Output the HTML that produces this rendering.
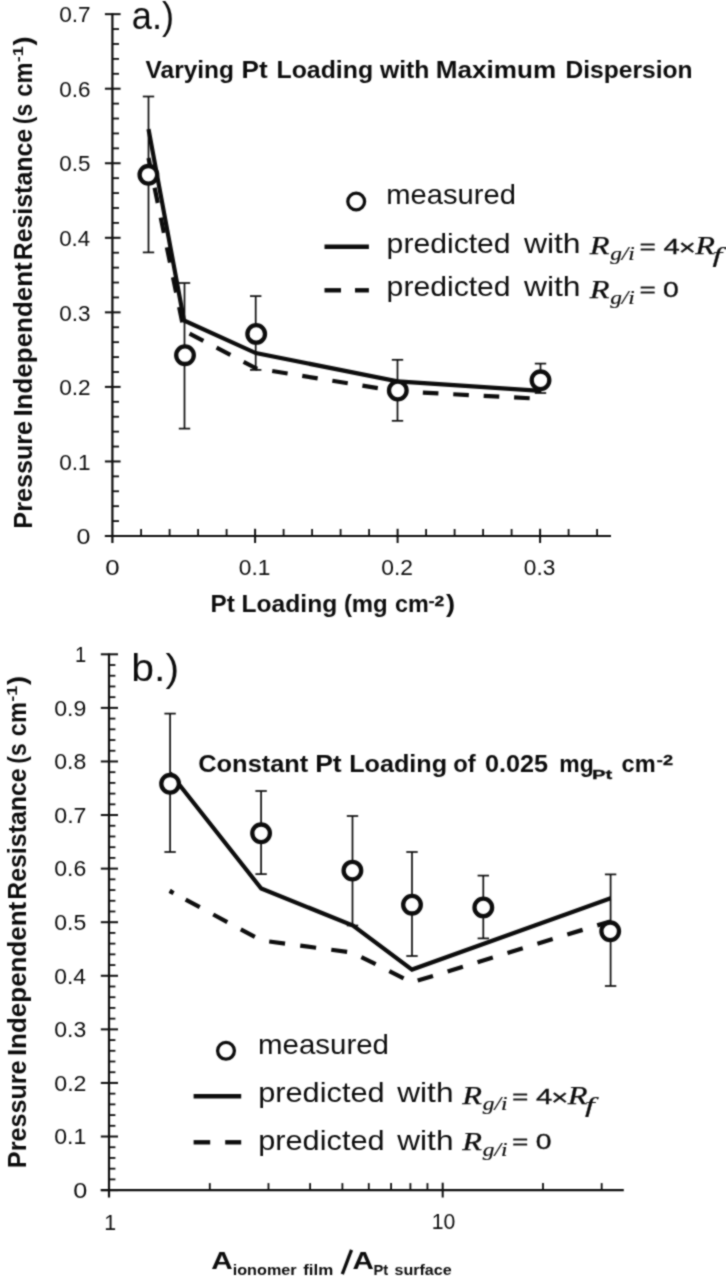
<!DOCTYPE html>
<html><head><meta charset="utf-8"><title>chart</title>
<style>
html,body{margin:0;padding:0;background:#fff;}
body{width:726px;height:1280px;overflow:hidden;font-family:"Liberation Sans",sans-serif;}
svg{display:block;}
svg text{fill:#0d0d0d;}
</style></head><body>
<svg width="726" height="1280" viewBox="0 0 726 1280" style="font-family:'Liberation Sans',sans-serif">
<defs><filter id="soft" x="0" y="0" width="100%" height="100%" filterUnits="userSpaceOnUse" color-interpolation-filters="sRGB"><feConvolveMatrix order="3" kernelMatrix="1 2 1 2 8 2 1 2 1" divisor="20" edgeMode="duplicate" preserveAlpha="true"/></filter></defs>
<rect width="726" height="1280" fill="#fff"/>
<g filter="url(#soft)">
<rect width="726" height="1280" fill="#fff"/>
<line x1="112.40" y1="13.20" x2="112.40" y2="543.00" stroke="#0d0d0d" stroke-width="2.2" />
<line x1="104.90" y1="536.00" x2="120.60" y2="536.00" stroke="#0d0d0d" stroke-width="2.0" />
<line x1="112.40" y1="521.09" x2="119.00" y2="521.09" stroke="#0d0d0d" stroke-width="1.8" />
<line x1="112.40" y1="506.18" x2="119.00" y2="506.18" stroke="#0d0d0d" stroke-width="1.8" />
<line x1="112.40" y1="491.27" x2="119.00" y2="491.27" stroke="#0d0d0d" stroke-width="1.8" />
<line x1="112.40" y1="476.36" x2="119.00" y2="476.36" stroke="#0d0d0d" stroke-width="1.8" />
<line x1="104.90" y1="461.45" x2="120.60" y2="461.45" stroke="#0d0d0d" stroke-width="2.0" />
<line x1="112.40" y1="446.54" x2="119.00" y2="446.54" stroke="#0d0d0d" stroke-width="1.8" />
<line x1="112.40" y1="431.63" x2="119.00" y2="431.63" stroke="#0d0d0d" stroke-width="1.8" />
<line x1="112.40" y1="416.72" x2="119.00" y2="416.72" stroke="#0d0d0d" stroke-width="1.8" />
<line x1="112.40" y1="401.81" x2="119.00" y2="401.81" stroke="#0d0d0d" stroke-width="1.8" />
<line x1="104.90" y1="386.90" x2="120.60" y2="386.90" stroke="#0d0d0d" stroke-width="2.0" />
<line x1="112.40" y1="371.99" x2="119.00" y2="371.99" stroke="#0d0d0d" stroke-width="1.8" />
<line x1="112.40" y1="357.08" x2="119.00" y2="357.08" stroke="#0d0d0d" stroke-width="1.8" />
<line x1="112.40" y1="342.17" x2="119.00" y2="342.17" stroke="#0d0d0d" stroke-width="1.8" />
<line x1="112.40" y1="327.26" x2="119.00" y2="327.26" stroke="#0d0d0d" stroke-width="1.8" />
<line x1="104.90" y1="312.35" x2="120.60" y2="312.35" stroke="#0d0d0d" stroke-width="2.0" />
<line x1="112.40" y1="297.44" x2="119.00" y2="297.44" stroke="#0d0d0d" stroke-width="1.8" />
<line x1="112.40" y1="282.53" x2="119.00" y2="282.53" stroke="#0d0d0d" stroke-width="1.8" />
<line x1="112.40" y1="267.62" x2="119.00" y2="267.62" stroke="#0d0d0d" stroke-width="1.8" />
<line x1="112.40" y1="252.71" x2="119.00" y2="252.71" stroke="#0d0d0d" stroke-width="1.8" />
<line x1="104.90" y1="237.80" x2="120.60" y2="237.80" stroke="#0d0d0d" stroke-width="2.0" />
<line x1="112.40" y1="222.89" x2="119.00" y2="222.89" stroke="#0d0d0d" stroke-width="1.8" />
<line x1="112.40" y1="207.98" x2="119.00" y2="207.98" stroke="#0d0d0d" stroke-width="1.8" />
<line x1="112.40" y1="193.07" x2="119.00" y2="193.07" stroke="#0d0d0d" stroke-width="1.8" />
<line x1="112.40" y1="178.16" x2="119.00" y2="178.16" stroke="#0d0d0d" stroke-width="1.8" />
<line x1="104.90" y1="163.25" x2="120.60" y2="163.25" stroke="#0d0d0d" stroke-width="2.0" />
<line x1="112.40" y1="148.34" x2="119.00" y2="148.34" stroke="#0d0d0d" stroke-width="1.8" />
<line x1="112.40" y1="133.43" x2="119.00" y2="133.43" stroke="#0d0d0d" stroke-width="1.8" />
<line x1="112.40" y1="118.52" x2="119.00" y2="118.52" stroke="#0d0d0d" stroke-width="1.8" />
<line x1="112.40" y1="103.61" x2="119.00" y2="103.61" stroke="#0d0d0d" stroke-width="1.8" />
<line x1="104.90" y1="88.70" x2="120.60" y2="88.70" stroke="#0d0d0d" stroke-width="2.0" />
<line x1="112.40" y1="73.79" x2="119.00" y2="73.79" stroke="#0d0d0d" stroke-width="1.8" />
<line x1="112.40" y1="58.88" x2="119.00" y2="58.88" stroke="#0d0d0d" stroke-width="1.8" />
<line x1="112.40" y1="43.97" x2="119.00" y2="43.97" stroke="#0d0d0d" stroke-width="1.8" />
<line x1="112.40" y1="29.06" x2="119.00" y2="29.06" stroke="#0d0d0d" stroke-width="1.8" />
<line x1="104.90" y1="14.15" x2="120.60" y2="14.15" stroke="#0d0d0d" stroke-width="2.0" />
<line x1="104.90" y1="536.00" x2="611.00" y2="536.00" stroke="#0d0d0d" stroke-width="2.2" />
<line x1="141.10" y1="529.00" x2="141.10" y2="536.00" stroke="#0d0d0d" stroke-width="1.8" />
<line x1="169.60" y1="529.00" x2="169.60" y2="536.00" stroke="#0d0d0d" stroke-width="1.8" />
<line x1="198.10" y1="529.00" x2="198.10" y2="536.00" stroke="#0d0d0d" stroke-width="1.8" />
<line x1="226.60" y1="529.00" x2="226.60" y2="536.00" stroke="#0d0d0d" stroke-width="1.8" />
<line x1="255.10" y1="528.80" x2="255.10" y2="543.00" stroke="#0d0d0d" stroke-width="2.0" />
<line x1="283.60" y1="529.00" x2="283.60" y2="536.00" stroke="#0d0d0d" stroke-width="1.8" />
<line x1="312.10" y1="529.00" x2="312.10" y2="536.00" stroke="#0d0d0d" stroke-width="1.8" />
<line x1="340.60" y1="529.00" x2="340.60" y2="536.00" stroke="#0d0d0d" stroke-width="1.8" />
<line x1="369.10" y1="529.00" x2="369.10" y2="536.00" stroke="#0d0d0d" stroke-width="1.8" />
<line x1="397.60" y1="528.80" x2="397.60" y2="543.00" stroke="#0d0d0d" stroke-width="2.0" />
<line x1="426.10" y1="529.00" x2="426.10" y2="536.00" stroke="#0d0d0d" stroke-width="1.8" />
<line x1="454.60" y1="529.00" x2="454.60" y2="536.00" stroke="#0d0d0d" stroke-width="1.8" />
<line x1="483.10" y1="529.00" x2="483.10" y2="536.00" stroke="#0d0d0d" stroke-width="1.8" />
<line x1="511.60" y1="529.00" x2="511.60" y2="536.00" stroke="#0d0d0d" stroke-width="1.8" />
<line x1="540.10" y1="528.80" x2="540.10" y2="543.00" stroke="#0d0d0d" stroke-width="2.0" />
<line x1="568.60" y1="529.00" x2="568.60" y2="536.00" stroke="#0d0d0d" stroke-width="1.8" />
<line x1="597.10" y1="529.00" x2="597.10" y2="536.00" stroke="#0d0d0d" stroke-width="1.8" />
<text x="76.60" y="544.17" font-size="22.54" textLength="13.90" lengthAdjust="spacingAndGlyphs">0</text>
<text x="59.20" y="469.62" font-size="22.54" textLength="31.32" lengthAdjust="spacingAndGlyphs">0.1</text>
<text x="59.20" y="395.07" font-size="22.54" textLength="31.44" lengthAdjust="spacingAndGlyphs">0.2</text>
<text x="59.20" y="320.52" font-size="22.54" textLength="31.20" lengthAdjust="spacingAndGlyphs">0.3</text>
<text x="59.21" y="245.97" font-size="22.54" textLength="30.96" lengthAdjust="spacingAndGlyphs">0.4</text>
<text x="59.20" y="171.42" font-size="22.54" textLength="31.20" lengthAdjust="spacingAndGlyphs">0.5</text>
<text x="59.20" y="96.87" font-size="22.54" textLength="31.20" lengthAdjust="spacingAndGlyphs">0.6</text>
<text x="59.20" y="22.32" font-size="22.54" textLength="31.44" lengthAdjust="spacingAndGlyphs">0.7</text>
<text x="105.17" y="574.88" font-size="21.69" textLength="14.37" lengthAdjust="spacingAndGlyphs">0</text>
<text x="238.79" y="574.88" font-size="21.69" textLength="31.64" lengthAdjust="spacingAndGlyphs">0.1</text>
<text x="381.29" y="574.88" font-size="21.69" textLength="31.76" lengthAdjust="spacingAndGlyphs">0.2</text>
<text x="523.79" y="574.88" font-size="21.69" textLength="31.52" lengthAdjust="spacingAndGlyphs">0.3</text>
<text x="32.10" y="528.64" font-size="25.50" font-weight="bold" textLength="107.74" lengthAdjust="spacingAndGlyphs" transform="rotate(-90 32.10 528.64)">Pressure</text>
<text x="32.10" y="416.59" font-size="25.50" font-weight="bold" textLength="154.37" lengthAdjust="spacingAndGlyphs" transform="rotate(-90 32.10 416.59)">Independent</text>
<text x="32.10" y="260.32" font-size="25.50" font-weight="bold" textLength="131.51" lengthAdjust="spacingAndGlyphs" transform="rotate(-90 32.10 260.32)">Resistance</text>
<text x="32.10" y="124.14" font-size="25.50" font-weight="bold" textLength="20.34" lengthAdjust="spacingAndGlyphs" transform="rotate(-90 32.10 124.14)">(s</text>
<text x="32.10" y="96.65" font-size="25.50" font-weight="bold" textLength="34.17" lengthAdjust="spacingAndGlyphs" transform="rotate(-90 32.10 96.65)">cm</text>
<text x="32.10" y="45.60" font-size="25.50" font-weight="bold" textLength="9.11" lengthAdjust="spacingAndGlyphs" transform="rotate(-90 32.10 45.60)">)</text>
<text x="23.10" y="62.32" font-size="15.50" font-weight="bold" textLength="15.95" lengthAdjust="spacingAndGlyphs" transform="rotate(-90 23.10 62.32)">-1</text>
<text x="210.62" y="612.00" font-size="24.00" font-weight="bold" textLength="24.35" lengthAdjust="spacingAndGlyphs">Pt</text>
<text x="241.60" y="612.00" font-size="24.00" font-weight="bold" textLength="95.58" lengthAdjust="spacingAndGlyphs">Loading</text>
<text x="343.90" y="612.00" font-size="24.00" font-weight="bold" textLength="43.82" lengthAdjust="spacingAndGlyphs">(mg</text>
<text x="394.97" y="612.00" font-size="24.00" font-weight="bold" textLength="33.74" lengthAdjust="spacingAndGlyphs">cm</text>
<text x="446.00" y="612.00" font-size="24.00" font-weight="bold" textLength="9.11" lengthAdjust="spacingAndGlyphs">)</text>
<text x="428.70" y="605.60" font-size="14.00" font-weight="bold" stroke="#0d0d0d" stroke-width="0.3" textLength="15.48" lengthAdjust="spacingAndGlyphs">-2</text>
<text x="131.75" y="28.50" font-size="38.00" textLength="42.30" lengthAdjust="spacingAndGlyphs">a.)</text>
<text x="145.58" y="77.50" font-size="23.50" font-weight="bold" textLength="88.38" lengthAdjust="spacingAndGlyphs">Varying</text>
<text x="241.50" y="77.50" font-size="23.50" font-weight="bold" textLength="26.09" lengthAdjust="spacingAndGlyphs">Pt</text>
<text x="276.48" y="77.50" font-size="23.50" font-weight="bold" textLength="96.61" lengthAdjust="spacingAndGlyphs">Loading</text>
<text x="380.02" y="77.50" font-size="23.50" font-weight="bold" textLength="49.45" lengthAdjust="spacingAndGlyphs">with</text>
<text x="435.80" y="77.50" font-size="23.50" font-weight="bold" textLength="120.29" lengthAdjust="spacingAndGlyphs">Maximum</text>
<text x="565.50" y="77.50" font-size="23.50" font-weight="bold" textLength="127.05" lengthAdjust="spacingAndGlyphs">Dispersion</text>
<line x1="148.50" y1="96.50" x2="148.50" y2="252.40" stroke="#0d0d0d" stroke-width="1.7" />
<line x1="142.80" y1="96.50" x2="154.20" y2="96.50" stroke="#0d0d0d" stroke-width="1.7" />
<line x1="142.80" y1="252.40" x2="154.20" y2="252.40" stroke="#0d0d0d" stroke-width="1.7" />
<line x1="184.50" y1="283.00" x2="184.50" y2="428.60" stroke="#0d0d0d" stroke-width="1.7" />
<line x1="178.80" y1="283.00" x2="190.20" y2="283.00" stroke="#0d0d0d" stroke-width="1.7" />
<line x1="178.80" y1="428.60" x2="190.20" y2="428.60" stroke="#0d0d0d" stroke-width="1.7" />
<line x1="255.70" y1="296.10" x2="255.70" y2="369.90" stroke="#0d0d0d" stroke-width="1.7" />
<line x1="250.00" y1="296.10" x2="261.40" y2="296.10" stroke="#0d0d0d" stroke-width="1.7" />
<line x1="250.00" y1="369.90" x2="261.40" y2="369.90" stroke="#0d0d0d" stroke-width="1.7" />
<line x1="397.50" y1="359.80" x2="397.50" y2="420.80" stroke="#0d0d0d" stroke-width="1.7" />
<line x1="391.80" y1="359.80" x2="403.20" y2="359.80" stroke="#0d0d0d" stroke-width="1.7" />
<line x1="391.80" y1="420.80" x2="403.20" y2="420.80" stroke="#0d0d0d" stroke-width="1.7" />
<line x1="540.50" y1="363.60" x2="540.50" y2="393.00" stroke="#0d0d0d" stroke-width="1.7" />
<line x1="534.80" y1="363.60" x2="546.20" y2="363.60" stroke="#0d0d0d" stroke-width="1.7" />
<line x1="534.80" y1="393.00" x2="546.20" y2="393.00" stroke="#0d0d0d" stroke-width="1.7" />
<polyline points="148.5,158.0 184.0,330.8 256.5,368.5 397.3,391.3 540.5,398.8" fill="none" stroke="#0d0d0d" stroke-width="4.2" stroke-linejoin="miter" stroke-dasharray="15.6 14.86" stroke-dashoffset="0.1"/>
<polyline points="148.5,129.1 184.0,320.5 255.8,353.1 397.5,381.3 540.5,390.8" fill="none" stroke="#0d0d0d" stroke-width="4.2" stroke-linejoin="miter"/>
<circle cx="148.4" cy="174.8" r="8.8" fill="#fff" stroke="#0d0d0d" stroke-width="4.3"/>
<circle cx="185.0" cy="355.2" r="8.8" fill="#fff" stroke="#0d0d0d" stroke-width="4.3"/>
<circle cx="256.2" cy="333.9" r="8.8" fill="#fff" stroke="#0d0d0d" stroke-width="4.3"/>
<circle cx="397.8" cy="390.5" r="8.8" fill="#fff" stroke="#0d0d0d" stroke-width="4.3"/>
<circle cx="540.5" cy="380.3" r="8.8" fill="#fff" stroke="#0d0d0d" stroke-width="4.3"/>
<circle cx="356.2" cy="201.5" r="8.4" fill="#fff" stroke="#0d0d0d" stroke-width="3.3"/>
<text x="386.30" y="204.00" font-size="28.00" textLength="129.65" lengthAdjust="spacingAndGlyphs">measured</text>
<line x1="324.50" y1="246.70" x2="368.90" y2="246.70" stroke="#0d0d0d" stroke-width="4.4" />
<line x1="324.50" y1="290.30" x2="341.00" y2="290.30" stroke="#0d0d0d" stroke-width="4.4" />
<line x1="355.00" y1="290.30" x2="368.90" y2="290.30" stroke="#0d0d0d" stroke-width="4.4" />
<text x="386.64" y="252.60" font-size="28.00" textLength="123.98" lengthAdjust="spacingAndGlyphs">predicted</text>
<text x="523.90" y="252.60" font-size="28.00" textLength="56.68" lengthAdjust="spacingAndGlyphs">with</text>
<text x="386.64" y="296.40" font-size="28.00" textLength="123.98" lengthAdjust="spacingAndGlyphs">predicted</text>
<text x="523.90" y="296.40" font-size="28.00" textLength="56.68" lengthAdjust="spacingAndGlyphs">with</text>
<text x="589.76" y="254.00" font-size="24.50" style="font-family:'Liberation Serif',serif" font-style="italic" stroke="#0d0d0d" stroke-width="0.25" textLength="19.75" lengthAdjust="spacingAndGlyphs">R</text>
<text x="610.20" y="260.20" font-size="19.50" style="font-family:'Liberation Serif',serif" font-style="italic" stroke="#0d0d0d" stroke-width="0.2" textLength="24.60" lengthAdjust="spacingAndGlyphs">g/i</text>
<text x="639.40" y="253.65" font-size="19.69" stroke="#0d0d0d" stroke-width="0.25" textLength="16.38" lengthAdjust="spacingAndGlyphs">=</text>
<text x="663.41" y="253.80" font-size="21.59" stroke="#0d0d0d" stroke-width="0.3" textLength="16.30" lengthAdjust="spacingAndGlyphs">4</text>
<text x="678.76" y="254.87" font-size="22.47" stroke="#0d0d0d" stroke-width="0.3" textLength="17.06" lengthAdjust="spacingAndGlyphs">×</text>
<text x="695.16" y="254.00" font-size="24.50" style="font-family:'Liberation Serif',serif" font-style="italic" stroke="#0d0d0d" stroke-width="0.25" textLength="19.75" lengthAdjust="spacingAndGlyphs">R</text>
<text x="712.45" y="261.50" font-size="21.00" style="font-family:'Liberation Serif',serif" font-style="italic" stroke="#0d0d0d" stroke-width="0.2" textLength="9.67" lengthAdjust="spacingAndGlyphs">f</text>
<text x="589.76" y="297.60" font-size="24.50" style="font-family:'Liberation Serif',serif" font-style="italic" stroke="#0d0d0d" stroke-width="0.25" textLength="19.75" lengthAdjust="spacingAndGlyphs">R</text>
<text x="610.20" y="303.80" font-size="19.50" style="font-family:'Liberation Serif',serif" font-style="italic" stroke="#0d0d0d" stroke-width="0.2" textLength="24.60" lengthAdjust="spacingAndGlyphs">g/i</text>
<text x="639.40" y="297.25" font-size="19.69" stroke="#0d0d0d" stroke-width="0.25" textLength="16.38" lengthAdjust="spacingAndGlyphs">=</text>
<text x="663.07" y="297.48" font-size="21.69" stroke="#0d0d0d" stroke-width="0.3" textLength="15.76" lengthAdjust="spacingAndGlyphs">0</text>
<line x1="109.00" y1="653.40" x2="109.00" y2="1197.50" stroke="#0d0d0d" stroke-width="2.2" />
<line x1="100.80" y1="1190.10" x2="118.00" y2="1190.10" stroke="#0d0d0d" stroke-width="2.0" />
<line x1="109.00" y1="1179.38" x2="115.40" y2="1179.38" stroke="#0d0d0d" stroke-width="1.8" />
<line x1="109.00" y1="1168.67" x2="115.40" y2="1168.67" stroke="#0d0d0d" stroke-width="1.8" />
<line x1="109.00" y1="1157.95" x2="115.40" y2="1157.95" stroke="#0d0d0d" stroke-width="1.8" />
<line x1="109.00" y1="1147.24" x2="115.40" y2="1147.24" stroke="#0d0d0d" stroke-width="1.8" />
<line x1="100.80" y1="1136.52" x2="118.00" y2="1136.52" stroke="#0d0d0d" stroke-width="2.0" />
<line x1="109.00" y1="1125.80" x2="115.40" y2="1125.80" stroke="#0d0d0d" stroke-width="1.8" />
<line x1="109.00" y1="1115.09" x2="115.40" y2="1115.09" stroke="#0d0d0d" stroke-width="1.8" />
<line x1="109.00" y1="1104.37" x2="115.40" y2="1104.37" stroke="#0d0d0d" stroke-width="1.8" />
<line x1="109.00" y1="1093.66" x2="115.40" y2="1093.66" stroke="#0d0d0d" stroke-width="1.8" />
<line x1="100.80" y1="1082.94" x2="118.00" y2="1082.94" stroke="#0d0d0d" stroke-width="2.0" />
<line x1="109.00" y1="1072.22" x2="115.40" y2="1072.22" stroke="#0d0d0d" stroke-width="1.8" />
<line x1="109.00" y1="1061.51" x2="115.40" y2="1061.51" stroke="#0d0d0d" stroke-width="1.8" />
<line x1="109.00" y1="1050.79" x2="115.40" y2="1050.79" stroke="#0d0d0d" stroke-width="1.8" />
<line x1="109.00" y1="1040.08" x2="115.40" y2="1040.08" stroke="#0d0d0d" stroke-width="1.8" />
<line x1="100.80" y1="1029.36" x2="118.00" y2="1029.36" stroke="#0d0d0d" stroke-width="2.0" />
<line x1="109.00" y1="1018.64" x2="115.40" y2="1018.64" stroke="#0d0d0d" stroke-width="1.8" />
<line x1="109.00" y1="1007.93" x2="115.40" y2="1007.93" stroke="#0d0d0d" stroke-width="1.8" />
<line x1="109.00" y1="997.21" x2="115.40" y2="997.21" stroke="#0d0d0d" stroke-width="1.8" />
<line x1="109.00" y1="986.50" x2="115.40" y2="986.50" stroke="#0d0d0d" stroke-width="1.8" />
<line x1="100.80" y1="975.78" x2="118.00" y2="975.78" stroke="#0d0d0d" stroke-width="2.0" />
<line x1="109.00" y1="965.06" x2="115.40" y2="965.06" stroke="#0d0d0d" stroke-width="1.8" />
<line x1="109.00" y1="954.35" x2="115.40" y2="954.35" stroke="#0d0d0d" stroke-width="1.8" />
<line x1="109.00" y1="943.63" x2="115.40" y2="943.63" stroke="#0d0d0d" stroke-width="1.8" />
<line x1="109.00" y1="932.92" x2="115.40" y2="932.92" stroke="#0d0d0d" stroke-width="1.8" />
<line x1="100.80" y1="922.20" x2="118.00" y2="922.20" stroke="#0d0d0d" stroke-width="2.0" />
<line x1="109.00" y1="911.48" x2="115.40" y2="911.48" stroke="#0d0d0d" stroke-width="1.8" />
<line x1="109.00" y1="900.77" x2="115.40" y2="900.77" stroke="#0d0d0d" stroke-width="1.8" />
<line x1="109.00" y1="890.05" x2="115.40" y2="890.05" stroke="#0d0d0d" stroke-width="1.8" />
<line x1="109.00" y1="879.34" x2="115.40" y2="879.34" stroke="#0d0d0d" stroke-width="1.8" />
<line x1="100.80" y1="868.62" x2="118.00" y2="868.62" stroke="#0d0d0d" stroke-width="2.0" />
<line x1="109.00" y1="857.90" x2="115.40" y2="857.90" stroke="#0d0d0d" stroke-width="1.8" />
<line x1="109.00" y1="847.19" x2="115.40" y2="847.19" stroke="#0d0d0d" stroke-width="1.8" />
<line x1="109.00" y1="836.47" x2="115.40" y2="836.47" stroke="#0d0d0d" stroke-width="1.8" />
<line x1="109.00" y1="825.76" x2="115.40" y2="825.76" stroke="#0d0d0d" stroke-width="1.8" />
<line x1="100.80" y1="815.04" x2="118.00" y2="815.04" stroke="#0d0d0d" stroke-width="2.0" />
<line x1="109.00" y1="804.32" x2="115.40" y2="804.32" stroke="#0d0d0d" stroke-width="1.8" />
<line x1="109.00" y1="793.61" x2="115.40" y2="793.61" stroke="#0d0d0d" stroke-width="1.8" />
<line x1="109.00" y1="782.89" x2="115.40" y2="782.89" stroke="#0d0d0d" stroke-width="1.8" />
<line x1="109.00" y1="772.18" x2="115.40" y2="772.18" stroke="#0d0d0d" stroke-width="1.8" />
<line x1="100.80" y1="761.46" x2="118.00" y2="761.46" stroke="#0d0d0d" stroke-width="2.0" />
<line x1="109.00" y1="750.74" x2="115.40" y2="750.74" stroke="#0d0d0d" stroke-width="1.8" />
<line x1="109.00" y1="740.03" x2="115.40" y2="740.03" stroke="#0d0d0d" stroke-width="1.8" />
<line x1="109.00" y1="729.31" x2="115.40" y2="729.31" stroke="#0d0d0d" stroke-width="1.8" />
<line x1="109.00" y1="718.60" x2="115.40" y2="718.60" stroke="#0d0d0d" stroke-width="1.8" />
<line x1="100.80" y1="707.88" x2="118.00" y2="707.88" stroke="#0d0d0d" stroke-width="2.0" />
<line x1="109.00" y1="697.16" x2="115.40" y2="697.16" stroke="#0d0d0d" stroke-width="1.8" />
<line x1="109.00" y1="686.45" x2="115.40" y2="686.45" stroke="#0d0d0d" stroke-width="1.8" />
<line x1="109.00" y1="675.73" x2="115.40" y2="675.73" stroke="#0d0d0d" stroke-width="1.8" />
<line x1="109.00" y1="665.02" x2="115.40" y2="665.02" stroke="#0d0d0d" stroke-width="1.8" />
<line x1="100.80" y1="654.30" x2="118.00" y2="654.30" stroke="#0d0d0d" stroke-width="2.0" />
<line x1="100.80" y1="1190.10" x2="623.80" y2="1190.10" stroke="#0d0d0d" stroke-width="2.2" />
<line x1="209.80" y1="1183.10" x2="209.80" y2="1190.10" stroke="#0d0d0d" stroke-width="1.8" />
<line x1="268.48" y1="1183.10" x2="268.48" y2="1190.10" stroke="#0d0d0d" stroke-width="1.8" />
<line x1="310.11" y1="1183.10" x2="310.11" y2="1190.10" stroke="#0d0d0d" stroke-width="1.8" />
<line x1="342.40" y1="1183.10" x2="342.40" y2="1190.10" stroke="#0d0d0d" stroke-width="1.8" />
<line x1="368.78" y1="1183.10" x2="368.78" y2="1190.10" stroke="#0d0d0d" stroke-width="1.8" />
<line x1="391.09" y1="1183.10" x2="391.09" y2="1190.10" stroke="#0d0d0d" stroke-width="1.8" />
<line x1="410.41" y1="1183.10" x2="410.41" y2="1190.10" stroke="#0d0d0d" stroke-width="1.8" />
<line x1="427.45" y1="1183.10" x2="427.45" y2="1190.10" stroke="#0d0d0d" stroke-width="1.8" />
<line x1="442.70" y1="1182.70" x2="442.70" y2="1197.50" stroke="#0d0d0d" stroke-width="2.0" />
<line x1="543.00" y1="1183.10" x2="543.00" y2="1190.10" stroke="#0d0d0d" stroke-width="1.8" />
<line x1="601.68" y1="1183.10" x2="601.68" y2="1190.10" stroke="#0d0d0d" stroke-width="1.8" />
<text x="73.39" y="1197.88" font-size="21.69" textLength="14.02" lengthAdjust="spacingAndGlyphs">0</text>
<text x="54.28" y="1144.30" font-size="21.69" textLength="32.06" lengthAdjust="spacingAndGlyphs">0.1</text>
<text x="54.27" y="1090.72" font-size="21.69" textLength="32.19" lengthAdjust="spacingAndGlyphs">0.2</text>
<text x="54.28" y="1037.14" font-size="21.69" textLength="31.94" lengthAdjust="spacingAndGlyphs">0.3</text>
<text x="54.29" y="983.56" font-size="21.69" textLength="31.70" lengthAdjust="spacingAndGlyphs">0.4</text>
<text x="54.28" y="929.98" font-size="21.69" textLength="31.94" lengthAdjust="spacingAndGlyphs">0.5</text>
<text x="54.28" y="876.40" font-size="21.69" textLength="31.94" lengthAdjust="spacingAndGlyphs">0.6</text>
<text x="54.27" y="822.82" font-size="21.69" textLength="32.19" lengthAdjust="spacingAndGlyphs">0.7</text>
<text x="54.28" y="769.24" font-size="21.69" textLength="31.94" lengthAdjust="spacingAndGlyphs">0.8</text>
<text x="54.28" y="715.66" font-size="21.69" textLength="32.06" lengthAdjust="spacingAndGlyphs">0.9</text>
<text x="75.08" y="662.30" font-size="22.32" textLength="11.25" lengthAdjust="spacingAndGlyphs">1</text>
<text x="104.30" y="1229.70" font-size="22.75" textLength="11.89" lengthAdjust="spacingAndGlyphs">1</text>
<text x="431.81" y="1229.48" font-size="22.11" textLength="23.58" lengthAdjust="spacingAndGlyphs">10</text>
<text x="26.00" y="1168.14" font-size="25.50" font-weight="bold" textLength="107.74" lengthAdjust="spacingAndGlyphs" transform="rotate(-90 26.00 1168.14)">Pressure</text>
<text x="26.00" y="1056.09" font-size="25.50" font-weight="bold" textLength="154.37" lengthAdjust="spacingAndGlyphs" transform="rotate(-90 26.00 1056.09)">Independent</text>
<text x="26.00" y="899.82" font-size="25.50" font-weight="bold" textLength="131.51" lengthAdjust="spacingAndGlyphs" transform="rotate(-90 26.00 899.82)">Resistance</text>
<text x="26.00" y="763.64" font-size="25.50" font-weight="bold" textLength="20.34" lengthAdjust="spacingAndGlyphs" transform="rotate(-90 26.00 763.64)">(s</text>
<text x="26.00" y="736.15" font-size="25.50" font-weight="bold" textLength="34.17" lengthAdjust="spacingAndGlyphs" transform="rotate(-90 26.00 736.15)">cm</text>
<text x="26.00" y="685.10" font-size="25.50" font-weight="bold" textLength="9.11" lengthAdjust="spacingAndGlyphs" transform="rotate(-90 26.00 685.10)">)</text>
<text x="17.00" y="701.82" font-size="15.50" font-weight="bold" textLength="15.95" lengthAdjust="spacingAndGlyphs" transform="rotate(-90 17.00 701.82)">-1</text>
<text x="211.16" y="1268.70" font-size="24.00" font-weight="bold" textLength="21.45" lengthAdjust="spacingAndGlyphs">A</text>
<text x="232.66" y="1275.30" font-size="15.50" font-weight="bold" textLength="63.98" lengthAdjust="spacingAndGlyphs">ionomer</text>
<text x="303.25" y="1275.30" font-size="15.50" font-weight="bold" textLength="30.03" lengthAdjust="spacingAndGlyphs">film</text>
<line x1="342.30" y1="1274.20" x2="351.50" y2="1249.90" stroke="#0d0d0d" stroke-width="3.3" />
<text x="352.46" y="1268.70" font-size="24.00" font-weight="bold" textLength="21.34" lengthAdjust="spacingAndGlyphs">A</text>
<text x="373.55" y="1275.30" font-size="15.00" font-weight="bold" textLength="14.68" lengthAdjust="spacingAndGlyphs">Pt</text>
<text x="394.44" y="1275.30" font-size="15.50" font-weight="bold" textLength="57.27" lengthAdjust="spacingAndGlyphs">surface</text>
<text x="131.34" y="681.00" font-size="38.00" textLength="47.80" lengthAdjust="spacingAndGlyphs">b.)</text>
<text x="198.28" y="771.70" font-size="23.50" font-weight="bold" textLength="110.05" lengthAdjust="spacingAndGlyphs">Constant</text>
<text x="315.18" y="771.70" font-size="23.50" font-weight="bold" textLength="26.52" lengthAdjust="spacingAndGlyphs">Pt</text>
<text x="349.16" y="771.70" font-size="23.50" font-weight="bold" textLength="97.85" lengthAdjust="spacingAndGlyphs">Loading</text>
<text x="453.15" y="771.70" font-size="23.50" font-weight="bold" textLength="22.42" lengthAdjust="spacingAndGlyphs">of</text>
<text x="484.99" y="771.70" font-size="23.50" font-weight="bold" textLength="63.10" lengthAdjust="spacingAndGlyphs">0.025</text>
<text x="559.31" y="771.70" font-size="23.50" font-weight="bold" textLength="34.38" lengthAdjust="spacingAndGlyphs">mg</text>
<text x="621.56" y="771.70" font-size="23.50" font-weight="bold" textLength="34.06" lengthAdjust="spacingAndGlyphs">cm</text>
<text x="592.09" y="778.80" font-size="13.50" font-weight="bold" stroke="#0d0d0d" stroke-width="0.3" textLength="20.22" lengthAdjust="spacingAndGlyphs">Pt</text>
<text x="656.87" y="764.80" font-size="14.50" font-weight="bold" stroke="#0d0d0d" stroke-width="0.3" textLength="16.14" lengthAdjust="spacingAndGlyphs">-2</text>
<line x1="170.10" y1="713.60" x2="170.10" y2="852.00" stroke="#0d0d0d" stroke-width="1.7" />
<line x1="164.40" y1="713.60" x2="175.80" y2="713.60" stroke="#0d0d0d" stroke-width="1.7" />
<line x1="164.40" y1="852.00" x2="175.80" y2="852.00" stroke="#0d0d0d" stroke-width="1.7" />
<line x1="261.10" y1="791.00" x2="261.10" y2="874.10" stroke="#0d0d0d" stroke-width="1.7" />
<line x1="255.40" y1="791.00" x2="266.80" y2="791.00" stroke="#0d0d0d" stroke-width="1.7" />
<line x1="255.40" y1="874.10" x2="266.80" y2="874.10" stroke="#0d0d0d" stroke-width="1.7" />
<line x1="352.50" y1="816.00" x2="352.50" y2="925.50" stroke="#0d0d0d" stroke-width="1.7" />
<line x1="346.80" y1="816.00" x2="358.20" y2="816.00" stroke="#0d0d0d" stroke-width="1.7" />
<line x1="346.80" y1="925.50" x2="358.20" y2="925.50" stroke="#0d0d0d" stroke-width="1.7" />
<line x1="412.00" y1="852.00" x2="412.00" y2="956.00" stroke="#0d0d0d" stroke-width="1.7" />
<line x1="406.30" y1="852.00" x2="417.70" y2="852.00" stroke="#0d0d0d" stroke-width="1.7" />
<line x1="406.30" y1="956.00" x2="417.70" y2="956.00" stroke="#0d0d0d" stroke-width="1.7" />
<line x1="483.30" y1="875.60" x2="483.30" y2="938.40" stroke="#0d0d0d" stroke-width="1.7" />
<line x1="477.60" y1="875.60" x2="489.00" y2="875.60" stroke="#0d0d0d" stroke-width="1.7" />
<line x1="477.60" y1="938.40" x2="489.00" y2="938.40" stroke="#0d0d0d" stroke-width="1.7" />
<line x1="610.60" y1="874.40" x2="610.60" y2="986.00" stroke="#0d0d0d" stroke-width="1.7" />
<line x1="604.90" y1="874.40" x2="616.30" y2="874.40" stroke="#0d0d0d" stroke-width="1.7" />
<line x1="604.90" y1="986.00" x2="616.30" y2="986.00" stroke="#0d0d0d" stroke-width="1.7" />
<polyline points="170.1,891.2 261.4,940.5 352.5,952.6 411.8,982.4 610.2,921.4" fill="none" stroke="#0d0d0d" stroke-width="4.2" stroke-linejoin="miter" stroke-dasharray="16 15.31" stroke-dashoffset="13.6"/>
<polyline points="170.1,773.0 261.2,888.5 353.0,925.5 412.0,969.6 610.6,898.2" fill="none" stroke="#0d0d0d" stroke-width="4.2" stroke-linejoin="miter"/>
<line x1="169.60" y1="890.90" x2="173.60" y2="893.10" stroke="#0d0d0d" stroke-width="4.2" />
<circle cx="170.1" cy="783.8" r="8.8" fill="#fff" stroke="#0d0d0d" stroke-width="4.3"/>
<circle cx="261.1" cy="833.3" r="8.8" fill="#fff" stroke="#0d0d0d" stroke-width="4.3"/>
<circle cx="352.4" cy="870.6" r="8.8" fill="#fff" stroke="#0d0d0d" stroke-width="4.3"/>
<circle cx="412.0" cy="904.7" r="8.8" fill="#fff" stroke="#0d0d0d" stroke-width="4.3"/>
<circle cx="483.3" cy="907.4" r="8.8" fill="#fff" stroke="#0d0d0d" stroke-width="4.3"/>
<circle cx="610.2" cy="931.3" r="8.8" fill="#fff" stroke="#0d0d0d" stroke-width="4.3"/>
<circle cx="226.0" cy="1050.8" r="8.4" fill="#fff" stroke="#0d0d0d" stroke-width="3.3"/>
<text x="257.99" y="1053.80" font-size="28.30" textLength="130.99" lengthAdjust="spacingAndGlyphs">measured</text>
<line x1="193.60" y1="1096.20" x2="241.20" y2="1096.20" stroke="#0d0d0d" stroke-width="4.4" />
<line x1="193.60" y1="1142.30" x2="210.20" y2="1142.30" stroke="#0d0d0d" stroke-width="4.4" />
<line x1="225.20" y1="1142.30" x2="241.20" y2="1142.30" stroke="#0d0d0d" stroke-width="4.4" />
<text x="258.20" y="1102.40" font-size="28.30" textLength="126.46" lengthAdjust="spacingAndGlyphs">predicted</text>
<text x="397.30" y="1102.40" font-size="28.30" textLength="56.16" lengthAdjust="spacingAndGlyphs">with</text>
<text x="258.20" y="1149.70" font-size="28.30" textLength="126.46" lengthAdjust="spacingAndGlyphs">predicted</text>
<text x="397.30" y="1149.70" font-size="28.30" textLength="56.16" lengthAdjust="spacingAndGlyphs">with</text>
<text x="462.36" y="1104.20" font-size="24.50" style="font-family:'Liberation Serif',serif" font-style="italic" stroke="#0d0d0d" stroke-width="0.25" textLength="19.75" lengthAdjust="spacingAndGlyphs">R</text>
<text x="482.80" y="1110.40" font-size="19.50" style="font-family:'Liberation Serif',serif" font-style="italic" stroke="#0d0d0d" stroke-width="0.2" textLength="24.60" lengthAdjust="spacingAndGlyphs">g/i</text>
<text x="512.00" y="1103.85" font-size="19.69" stroke="#0d0d0d" stroke-width="0.25" textLength="16.38" lengthAdjust="spacingAndGlyphs">=</text>
<text x="536.01" y="1104.00" font-size="21.59" stroke="#0d0d0d" stroke-width="0.3" textLength="16.30" lengthAdjust="spacingAndGlyphs">4</text>
<text x="551.36" y="1105.07" font-size="22.47" stroke="#0d0d0d" stroke-width="0.3" textLength="17.06" lengthAdjust="spacingAndGlyphs">×</text>
<text x="567.76" y="1104.20" font-size="24.50" style="font-family:'Liberation Serif',serif" font-style="italic" stroke="#0d0d0d" stroke-width="0.25" textLength="19.75" lengthAdjust="spacingAndGlyphs">R</text>
<text x="585.05" y="1111.70" font-size="21.00" style="font-family:'Liberation Serif',serif" font-style="italic" stroke="#0d0d0d" stroke-width="0.2" textLength="9.67" lengthAdjust="spacingAndGlyphs">f</text>
<text x="462.36" y="1149.50" font-size="24.50" style="font-family:'Liberation Serif',serif" font-style="italic" stroke="#0d0d0d" stroke-width="0.25" textLength="19.75" lengthAdjust="spacingAndGlyphs">R</text>
<text x="482.80" y="1155.70" font-size="19.50" style="font-family:'Liberation Serif',serif" font-style="italic" stroke="#0d0d0d" stroke-width="0.2" textLength="24.60" lengthAdjust="spacingAndGlyphs">g/i</text>
<text x="512.00" y="1149.15" font-size="19.69" stroke="#0d0d0d" stroke-width="0.25" textLength="16.38" lengthAdjust="spacingAndGlyphs">=</text>
<text x="535.67" y="1149.38" font-size="21.69" stroke="#0d0d0d" stroke-width="0.3" textLength="15.76" lengthAdjust="spacingAndGlyphs">0</text>
</g>
</svg>
</body></html>
